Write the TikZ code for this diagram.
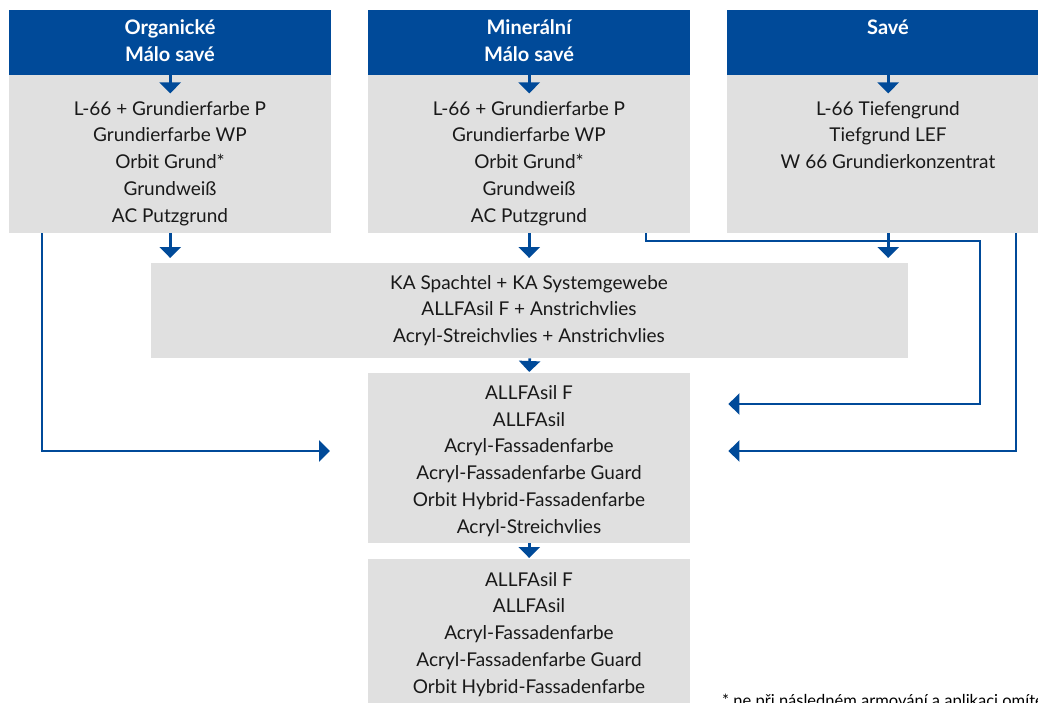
\documentclass[tikz,border=0pt]{standalone}
\usepackage{fontspec}
\setmainfont{Lato}
\usetikzlibrary{arrows.meta}
\definecolor{allfablue}{HTML}{004A99}
\definecolor{allfagrey}{HTML}{E0E0E0}
\begin{document}
\begin{tikzpicture}[x=1pt,y=-1pt,
    head/.style={fill=allfablue,minimum width=322pt,minimum height=65pt,inner sep=0pt,anchor=north west},
    box/.style={fill=allfagrey,inner sep=0pt,anchor=north west},
    htext/.style={align=center,anchor=base,inner sep=0pt,text=white,font=\fontsize{20}{27}\selectfont\bfseries},
    ltext/.style={align=center,anchor=base,inner sep=0pt,text=black!90,font=\fontsize{19}{26.75}\selectfont},
    flow/.style={allfablue,line width=2.7pt,-{Triangle[width=21pt,length=11pt]}}]
  \useasboundingbox (0,0) rectangle (1038,702);
  \clip (0,0) rectangle (1038,702);
  \node[head] (h1) at (9,10) {};
  \node[head] (h2) at (368,10) {};
  \node[head] (h3) at (727,10) {};
  \node[box,minimum width=322pt,minimum height=158pt] (l1) at (9,75) {};
  \node[box,minimum width=322pt,minimum height=158pt] (l2) at (368,75) {};
  \node[box,minimum width=322pt,minimum height=158pt] (l3) at (727,75) {};
  \node[box,minimum width=757pt,minimum height=95pt] (mid) at (151,263) {};
  \node[box,minimum width=322pt,minimum height=170pt] (f1) at (368,373) {};
  \node[box,minimum width=322pt,minimum height=150pt] (f2) at (368,559) {};
  % base anchor = baseline of the last line
  \node[htext] (h1t) at (170,61) {Organické\\Málo savé};
  \node[htext] (h2t) at (529,61) {Minerální\\Málo savé};
  \node[htext] (h3t) at (888,34) {Savé};
  \node[ltext] (l1t) at (170,222) {L-66 + Grundierfarbe P\\Grundierfarbe WP\\Orbit Grund*\\Grundweiß\\AC Putzgrund};
  \node[ltext] (l2t) at (529,222) {L-66 + Grundierfarbe P\\Grundierfarbe WP\\Orbit Grund*\\Grundweiß\\AC Putzgrund};
  \node[ltext] (l3t) at (888,168.5) {L-66 Tiefengrund\\Tiefgrund LEF\\W 66 Grundierkonzentrat};
  \node[ltext] (midt) at (529,342.5) {KA Spachtel + KA Systemgewebe\\ALLFAsil F + Anstrichvlies\\Acryl-Streichvlies + Anstrichvlies};
  \node[ltext] (f1t) at (529,533) {ALLFAsil F\\ALLFAsil\\Acryl-Fassadenfarbe\\Acryl-Fassadenfarbe Guard\\Orbit Hybrid-Fassadenfarbe\\Acryl-Streichvlies};
  \node[ltext] (f2t) at (529,693) {ALLFAsil F\\ALLFAsil\\Acryl-Fassadenfarbe\\Acryl-Fassadenfarbe Guard\\Orbit Hybrid-Fassadenfarbe};
  \node[anchor=base west,inner sep=0pt,font=\fontsize{16.5}{18}\selectfont] (note) at (722,706) {* ne při následném armování a aplikaci omítek};
  \coordinate (o1) at (42,233);
  \coordinate (k1) at (42,451);
  \coordinate (o2) at (646,233);
  \coordinate (k2) at (980,241);
  \coordinate (k3) at (980,404);
  \coordinate (o3) at (1016,233);
  \coordinate (k4) at (1016,451);
  \draw[flow] (h1.south) -- ++(0,18);
  \draw[flow] (h2.south) -- ++(0,18);
  \draw[flow] (h3.south) -- ++(0,18);
  \draw[flow,shorten >=5pt] (l1.south) -- (l1.south |- mid.north);
  \draw[flow,shorten >=5pt] (l2.south) -- (l2.south |- mid.north);
  \draw[flow,shorten >=5pt] (l3.south) -- (l3.south |- mid.north);
  \draw[flow,shorten >=1pt] (mid.south) -- (f1.north);
  \draw[flow,shorten >=1pt] (f1.south) -- (f2.north);
  \draw[flow,shorten >=38pt] (o1) |- (k1 -| f1.west);
  \draw[flow,shorten >=38pt] (o2) |- (k2) |- (k3 -| f1.east);
  \draw[flow,shorten >=38pt] (o3) |- (k4 -| f1.east);
\end{tikzpicture}
\end{document}
